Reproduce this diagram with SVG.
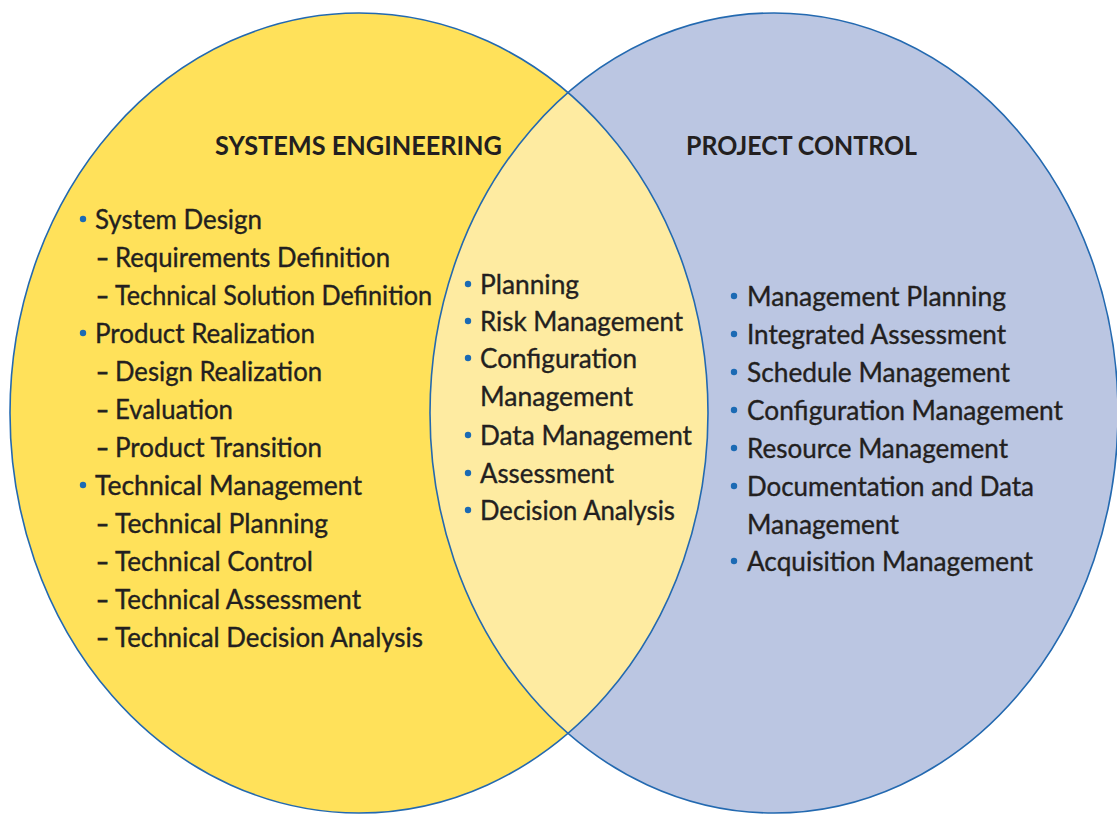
<svg xmlns="http://www.w3.org/2000/svg" width="1117" height="814" viewBox="0 0 1117 814">
  <style>
    .t { font-family: Lato, "Noto Sans", "Liberation Sans", sans-serif; font-size: 26px; fill: #231F20; stroke: #231F20; stroke-width: 0.35; }
    .d { font-family: Lato, "Noto Sans", "Liberation Sans", sans-serif; font-size: 26px; fill: #231F20; stroke: #231F20; stroke-width: 1; }
    .h { font-family: Lato, "Noto Sans", "Liberation Sans", sans-serif; font-size: 26px; font-weight: bold; fill: #231F20; }
    .b { fill: #1B6AB4; }
    .edge { fill: none; stroke: #2369B0; stroke-width: 1.6; }
  </style>
  <defs>
    <clipPath id="leftClip">
      <ellipse cx="359" cy="413" rx="349" ry="400"/>
    </clipPath>
  </defs>
  <rect width="1117" height="814" fill="#FFFFFF"/>

  <g id="shapes">
    <ellipse cx="359" cy="413" rx="349" ry="400" fill="#FFE15A"/>
    <ellipse cx="774" cy="413" rx="344" ry="400" fill="#BBC6E2"/>
    <ellipse cx="774" cy="413" rx="344" ry="400" fill="#FEEBA1" clip-path="url(#leftClip)"/>
    <ellipse class="edge" cx="359" cy="413" rx="349" ry="400"/>
    <ellipse class="edge" cx="774" cy="413" rx="344" ry="400"/>
  </g>

  <g id="systems-engineering">
    <text class="h" x="215" y="155" textLength="287" lengthAdjust="spacingAndGlyphs">SYSTEMS ENGINEERING</text>
    <circle class="b" cx="83" cy="219" r="3.2"/>
    <text class="t" x="95" y="229" textLength="167" lengthAdjust="spacingAndGlyphs">System Design</text>
    <text class="d" x="96" y="267" textLength="13" lengthAdjust="spacingAndGlyphs">–</text>
    <text class="t" x="115" y="267" textLength="275" lengthAdjust="spacingAndGlyphs">Requirements Definition</text>
    <text class="d" x="96" y="305" textLength="13" lengthAdjust="spacingAndGlyphs">–</text>
    <text class="t" x="115" y="305" textLength="317" lengthAdjust="spacingAndGlyphs">Technical Solution Definition</text>
    <circle class="b" cx="83" cy="333" r="3.2"/>
    <text class="t" x="95" y="343" textLength="220" lengthAdjust="spacingAndGlyphs">Product Realization</text>
    <text class="d" x="96" y="381" textLength="13" lengthAdjust="spacingAndGlyphs">–</text>
    <text class="t" x="115" y="381" textLength="207" lengthAdjust="spacingAndGlyphs">Design Realization</text>
    <text class="d" x="96" y="419" textLength="13" lengthAdjust="spacingAndGlyphs">–</text>
    <text class="t" x="115" y="419" textLength="118" lengthAdjust="spacingAndGlyphs">Evaluation</text>
    <text class="d" x="96" y="457" textLength="13" lengthAdjust="spacingAndGlyphs">–</text>
    <text class="t" x="115" y="457" textLength="207" lengthAdjust="spacingAndGlyphs">Product Transition</text>
    <circle class="b" cx="83" cy="485" r="3.2"/>
    <text class="t" x="95" y="495" textLength="267" lengthAdjust="spacingAndGlyphs">Technical Management</text>
    <text class="d" x="96" y="533" textLength="13" lengthAdjust="spacingAndGlyphs">–</text>
    <text class="t" x="115" y="533" textLength="213" lengthAdjust="spacingAndGlyphs">Technical Planning</text>
    <text class="d" x="96" y="571" textLength="13" lengthAdjust="spacingAndGlyphs">–</text>
    <text class="t" x="115" y="571" textLength="198" lengthAdjust="spacingAndGlyphs">Technical Control</text>
    <text class="d" x="96" y="609" textLength="13" lengthAdjust="spacingAndGlyphs">–</text>
    <text class="t" x="115" y="609" textLength="246" lengthAdjust="spacingAndGlyphs">Technical Assessment</text>
    <text class="d" x="96" y="647" textLength="13" lengthAdjust="spacingAndGlyphs">–</text>
    <text class="t" x="115" y="647" textLength="308" lengthAdjust="spacingAndGlyphs">Technical Decision Analysis</text>
  </g>

  <g id="overlap">
    <circle class="b" cx="468" cy="284" r="3.2"/>
    <text class="t" x="480" y="294" textLength="99" lengthAdjust="spacingAndGlyphs">Planning</text>
    <circle class="b" cx="468" cy="321" r="3.2"/>
    <text class="t" x="480" y="331" textLength="203" lengthAdjust="spacingAndGlyphs">Risk Management</text>
    <circle class="b" cx="468" cy="358" r="3.2"/>
    <text class="t" x="480" y="368" textLength="157" lengthAdjust="spacingAndGlyphs">Configuration</text>
    <text class="t" x="480" y="406" textLength="153" lengthAdjust="spacingAndGlyphs">Management</text>
    <circle class="b" cx="468" cy="435" r="3.2"/>
    <text class="t" x="480" y="445" textLength="212" lengthAdjust="spacingAndGlyphs">Data Management</text>
    <circle class="b" cx="468" cy="473" r="3.2"/>
    <text class="t" x="480" y="483" textLength="134" lengthAdjust="spacingAndGlyphs">Assessment</text>
    <circle class="b" cx="468" cy="510" r="3.2"/>
    <text class="t" x="480" y="520" textLength="195" lengthAdjust="spacingAndGlyphs">Decision Analysis</text>
  </g>

  <g id="project-control">
    <text class="h" x="686" y="155" textLength="231" lengthAdjust="spacingAndGlyphs">PROJECT CONTROL</text>
    <circle class="b" cx="734" cy="296" r="3.2"/>
    <text class="t" x="747" y="306" textLength="259" lengthAdjust="spacingAndGlyphs">Management Planning</text>
    <circle class="b" cx="734" cy="334" r="3.2"/>
    <text class="t" x="747" y="344" textLength="259" lengthAdjust="spacingAndGlyphs">Integrated Assessment</text>
    <circle class="b" cx="734" cy="372" r="3.2"/>
    <text class="t" x="747" y="382" textLength="263" lengthAdjust="spacingAndGlyphs">Schedule Management</text>
    <circle class="b" cx="734" cy="410" r="3.2"/>
    <text class="t" x="747" y="420" textLength="316" lengthAdjust="spacingAndGlyphs">Configuration Management</text>
    <circle class="b" cx="734" cy="448" r="3.2"/>
    <text class="t" x="747" y="458" textLength="261" lengthAdjust="spacingAndGlyphs">Resource Management</text>
    <circle class="b" cx="734" cy="486" r="3.2"/>
    <text class="t" x="747" y="496" textLength="287" lengthAdjust="spacingAndGlyphs">Documentation and Data</text>
    <text class="t" x="747" y="534" textLength="152" lengthAdjust="spacingAndGlyphs">Management</text>
    <circle class="b" cx="734" cy="561" r="3.2"/>
    <text class="t" x="747" y="571" textLength="286" lengthAdjust="spacingAndGlyphs">Acquisition Management</text>
  </g>
</svg>
